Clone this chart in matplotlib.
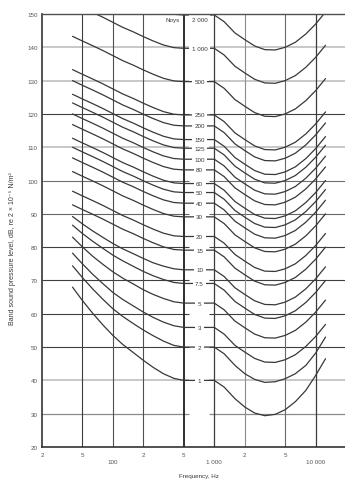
import matplotlib
matplotlib.use('Agg')
import matplotlib.pyplot as plt

plt.rcParams['font.family'] = ['Liberation Sans', 'DejaVu Sans']

# ---- data ----
freqs = [40, 50, 63, 80, 100, 125, 160, 200, 250, 315, 400, 500, 630, 800, 1000,
         1250, 1600, 2000, 2500, 3150, 4000, 5000, 6300, 8000, 10000, 12500]

noy_1 = [68.0, 64.0, 60.2, 56.6, 53.5, 50.8, 48.3, 46.0, 43.9, 42.0, 40.6, 40.0, 40.0, 40.0, 40.0,
         38.0, 34.5, 32.0, 30.2, 29.4, 29.8, 31.2, 33.6, 37.0, 41.5, 46.5]
noy_2 = [74.4, 70.9, 67.5, 64.3, 61.5, 59.2, 57.0, 55.1, 53.4, 51.8, 50.5, 50.0, 50.0, 50.0, 50.0,
         48.0, 44.5, 42.0, 40.3, 39.4, 39.6, 40.5, 42.0, 44.5, 48.2, 53.0]
noy_3 = [78.2, 75.0, 71.9, 69.0, 66.4, 64.3, 62.3, 60.5, 58.9, 57.5, 56.4, 55.9, 55.9, 55.9, 55.9,
         53.9, 50.5, 48.5, 46.6, 45.5, 45.4, 46.2, 47.7, 50.2, 53.2, 56.8]
noy_5 = [83.0, 80.1, 77.3, 74.8, 72.6, 70.7, 68.9, 67.2, 65.8, 64.6, 63.6, 63.2, 63.2, 63.2, 63.2,
         61.2, 57.8, 55.8, 53.9, 52.8, 52.7, 53.5, 55.0, 57.5, 60.5, 64.1]
noy_7_5 = [86.6, 84.1, 81.8, 79.6, 77.6, 75.9, 74.2, 72.7, 71.4, 70.3, 69.4, 69.1, 69.1, 69.1, 69.1,
           67.1, 63.7, 61.7, 59.8, 58.7, 58.6, 59.4, 60.9, 63.4, 66.4, 70.0]
noy_10 = [89.2, 87.0, 84.9, 82.9, 81.1, 79.5, 78.0, 76.6, 75.3, 74.3, 73.5, 73.2, 73.2, 73.2, 73.2,
          71.2, 67.8, 65.8, 63.9, 62.8, 62.7, 63.5, 65.0, 67.5, 70.5, 74.1]
noy_15 = [92.7, 91.3, 89.9, 88.4, 86.9, 85.4, 84.0, 82.6, 81.3, 80.1, 79.3, 79.1, 79.1, 79.1, 79.1,
          77.1, 73.7, 71.7, 69.8, 68.7, 68.6, 69.4, 70.9, 73.4, 76.4, 80.0]
noy_20 = [96.8, 95.4, 94.0, 92.5, 91.0, 89.5, 88.1, 86.7, 85.4, 84.2, 83.4, 83.2, 83.2, 83.2, 83.2,
          81.2, 77.8, 75.8, 73.9, 72.8, 72.7, 73.5, 75.0, 77.5, 80.5, 84.1]
noy_30 = [102.7, 101.3, 99.9, 98.4, 96.9, 95.4, 94.0, 92.6, 91.3, 90.1, 89.3, 89.1, 89.1, 89.1, 89.1,
          87.1, 83.7, 81.7, 79.8, 78.7, 78.6, 79.4, 80.9, 83.4, 86.4, 90.0]
noy_40 = [106.8, 105.4, 104.0, 102.5, 101.0, 99.5, 98.1, 96.7, 95.4, 94.2, 93.4, 93.2, 93.2, 93.2, 93.2,
          91.2, 87.8, 85.8, 83.9, 82.8, 82.7, 83.5, 85.0, 87.5, 90.5, 94.1]
noy_50 = [110.0, 108.6, 107.2, 105.7, 104.2, 102.7, 101.3, 99.9, 98.6, 97.4, 96.6, 96.4, 96.4, 96.4, 96.4,
          94.4, 91.0, 89.0, 87.1, 86.0, 85.9, 86.7, 88.2, 90.7, 93.7, 97.3]
noy_60 = [112.7, 111.3, 109.9, 108.4, 106.9, 105.4, 104.0, 102.6, 101.3, 100.1, 99.3, 99.1, 99.1, 99.1, 99.1,
          97.1, 93.7, 91.7, 89.8, 88.7, 88.6, 89.4, 90.9, 93.4, 96.4, 100.0]
noy_80 = [116.8, 115.4, 114.0, 112.5, 111.0, 109.5, 108.1, 106.7, 105.4, 104.2, 103.4, 103.2, 103.2, 103.2, 103.2,
          101.2, 97.8, 95.8, 93.9, 92.8, 92.7, 93.5, 95.0, 97.5, 100.5, 104.1]
noy_100 = [120.0, 118.6, 117.2, 115.7, 114.2, 112.7, 111.3, 109.9, 108.6, 107.4, 106.6, 106.4, 106.4, 106.4, 106.4,
           104.4, 101.0, 99.0, 97.1, 96.0, 95.9, 96.7, 98.2, 100.7, 103.7, 107.3]
noy_125 = [123.3, 121.9, 120.5, 119.0, 117.5, 116.0, 114.6, 113.2, 111.9, 110.7, 109.9, 109.7, 109.7, 109.7, 109.7,
           107.7, 104.3, 102.3, 100.4, 99.3, 99.2, 100.0, 101.5, 104.0, 107.0, 110.6]
noy_150 = [125.9, 124.5, 123.1, 121.6, 120.1, 118.6, 117.2, 115.8, 114.5, 113.3, 112.5, 112.3, 112.3, 112.3, 112.3,
           110.3, 106.9, 104.9, 103.0, 101.9, 101.8, 102.6, 104.1, 106.6, 109.6, 113.2]
noy_200 = [130.0, 128.6, 127.2, 125.7, 124.2, 122.7, 121.3, 119.9, 118.6, 117.4, 116.6, 116.4, 116.4, 116.4, 116.4,
           114.4, 111.0, 109.0, 107.1, 106.0, 105.9, 106.7, 108.2, 110.7, 113.7, 117.3]
noy_250 = [133.3, 131.9, 130.5, 129.0, 127.5, 126.0, 124.6, 123.2, 121.9, 120.7, 119.9, 119.7, 119.7, 119.7, 119.7,
           117.7, 114.3, 112.3, 110.4, 109.3, 109.2, 110.0, 111.5, 114.0, 117.0, 120.6]
noy_500 = [143.3, 141.9, 140.5, 139.0, 137.5, 136.0, 134.6, 133.2, 131.9, 130.7, 129.9, 129.7, 129.7, 129.7, 129.7,
           127.7, 124.3, 122.3, 120.4, 119.3, 119.2, 120.0, 121.5, 124.0, 127.0, 130.6]
noy_1000 = [153.3, 151.9, 150.5, 149.0, 147.5, 146.0, 144.6, 143.2, 141.9, 140.7, 139.9, 139.7, 139.7, 139.7, 139.7,
            137.7, 134.3, 132.3, 130.4, 129.3, 129.2, 130.0, 131.5, 134.0, 137.0, 140.6]
noy_2000 = [163.3, 161.9, 160.5, 159.0, 157.5, 156.0, 154.6, 153.2, 151.9, 150.7, 149.9, 149.7, 149.7, 149.7, 149.7,
            147.7, 144.3, 142.3, 140.4, 139.3, 139.2, 140.0, 141.5, 144.0, 147.0, 150.6]

curves = [noy_1, noy_2, noy_3, noy_5, noy_7_5, noy_10, noy_15, noy_20, noy_30, noy_40,
          noy_50, noy_60, noy_80, noy_100, noy_125, noy_150, noy_200, noy_250, noy_500,
          noy_1000, noy_2000]
noy_labels = ["1", "2", "3", "5", "7.5", "10", "15", "20", "30", "40", "50", "60", "80",
              "100", "125", "150", "200", "250", "500", "1 000", "2 000"]

y_ticks = [20, 30, 40, 50, 60, 70, 80, 90, 100, 110, 120, 130, 140, 150]
x_major = [100, 1000, 10000]
x_major_labels = ["100", "1 000", "10 000"]
x_minor = [20, 50, 200, 500, 2000, 5000, 20000]
x_minor_labels = ["2", "5", "2", "5", "2", "5", "2"]
v_grid = [50, 100, 200, 500, 1000, 2000, 5000, 10000]

# ---- figure ----
W, H = 345, 481
fig = plt.figure(figsize=(W / 100, H / 100), dpi=100)
ax = fig.add_axes([42 / W, 33 / H, 304.2 / W, 433 / H])
ax.set_xscale('log')
ax.set_xlim(20, 20000)
ax.set_ylim(20, 150)

# horizontal grid lines, interrupted in the label column
gap_lo, gap_hi = 564, 888
h_style = {30: ('#8a8a8a', 0.9), 40: ('#c4c4c4', 1.3), 50: ('#404040', 0.8),
           60: ('#404040', 0.8), 70: ('#404040', 0.8), 80: ('#404040', 0.8),
           90: ('#666666', 0.8), 100: ('#6e6e6e', 0.8), 110: ('#c4c4c4', 1.3),
           120: ('#404040', 0.8), 130: ('#c4c4c4', 1.3), 140: ('#c4c4c4', 1.3)}
for yv in y_ticks[1:-1]:
    c, lw = h_style[yv]
    ax.hlines(yv, 20, gap_lo, colors=c, lw=lw, zorder=1)
    ax.hlines(yv, gap_hi, 20000, colors=c, lw=lw, zorder=1)

# vertical grid lines
v_style = {50: ('#3c3c3c', 0.8), 100: ('#505050', 0.8), 200: ('#505050', 0.8),
           500: ('#1e1e1e', 1.3), 1000: ('#3c3c3c', 0.9), 2000: ('#8c8c8c', 0.8),
           5000: ('#6a6a6a', 0.8), 10000: ('#3c3c3c', 0.9)}
for xv in v_grid:
    c, lw = v_style[xv]
    ax.axvline(xv, color=c, lw=lw, zorder=1)

# curves
for vals in curves:
    ax.plot(freqs, vals, color='#383838', lw=0.9, zorder=2,
            solid_joinstyle='round', solid_capstyle='round')

# noy labels in the gap column (white box first, then text)
label_f = 715
for lab, vals in zip(noy_labels, curves):
    ly = min(vals[12], 148.3)
    ax.text(label_f, ly, lab, ha='center', va='center', fontsize=4.5, color='white',
            bbox=dict(boxstyle='square,pad=0.4', fc='white', ec='none'), zorder=3)
for lab, vals in zip(noy_labels, curves):
    ly = min(vals[12], 148.3)
    ax.text(label_f, ly, lab, ha='center', va='center', fontsize=4.5, color='#3a3a3a', zorder=4)

ax.text(384, 148.3, 'Noys', ha='center', va='center', fontsize=4.5, color='#3a3a3a', zorder=4)

# ticks
ax.set_yticks(y_ticks)
ax.set_yticklabels([str(v) for v in y_ticks])
ax.set_xticks(x_major)
ax.set_xticklabels(x_major_labels)
ax.set_xticks(x_minor, minor=True)
ax.set_xticklabels(x_minor_labels, minor=True)
ax.tick_params(axis='y', length=0, pad=3, labelsize=4.5, labelcolor='#555555')
ax.tick_params(axis='x', which='major', length=0, pad=8.5, labelsize=4.5, labelcolor='#555555')
ax.tick_params(axis='x', which='minor', length=0, pad=3.5, labelsize=4.5, labelcolor='#555555')
ax.grid(False)

for side in ['left', 'bottom']:
    ax.spines[side].set_color('#333333')
    ax.spines[side].set_linewidth(1.2)
    ax.spines[side].set_zorder(5)
ax.spines['top'].set_color('#505050')
ax.spines['top'].set_linewidth(1.0)
ax.spines['top'].set_zorder(5)
ax.spines['right'].set_visible(False)

fig.text(199 / W, 1 - 477 / H, 'Frequency, Hz', ha='center', va='center', fontsize=4.5,
         color='#3a3a3a')
fig.text(12.5 / W, 1 - 249 / H, 'Band sound pressure level, dB, re 2 \u00d7 10\u207b\u2075 N/m\u00b2',
         rotation=90, ha='center', va='center', fontsize=5, color='#3a3a3a')

fig.savefig('out.png', dpi=100, facecolor='white')
